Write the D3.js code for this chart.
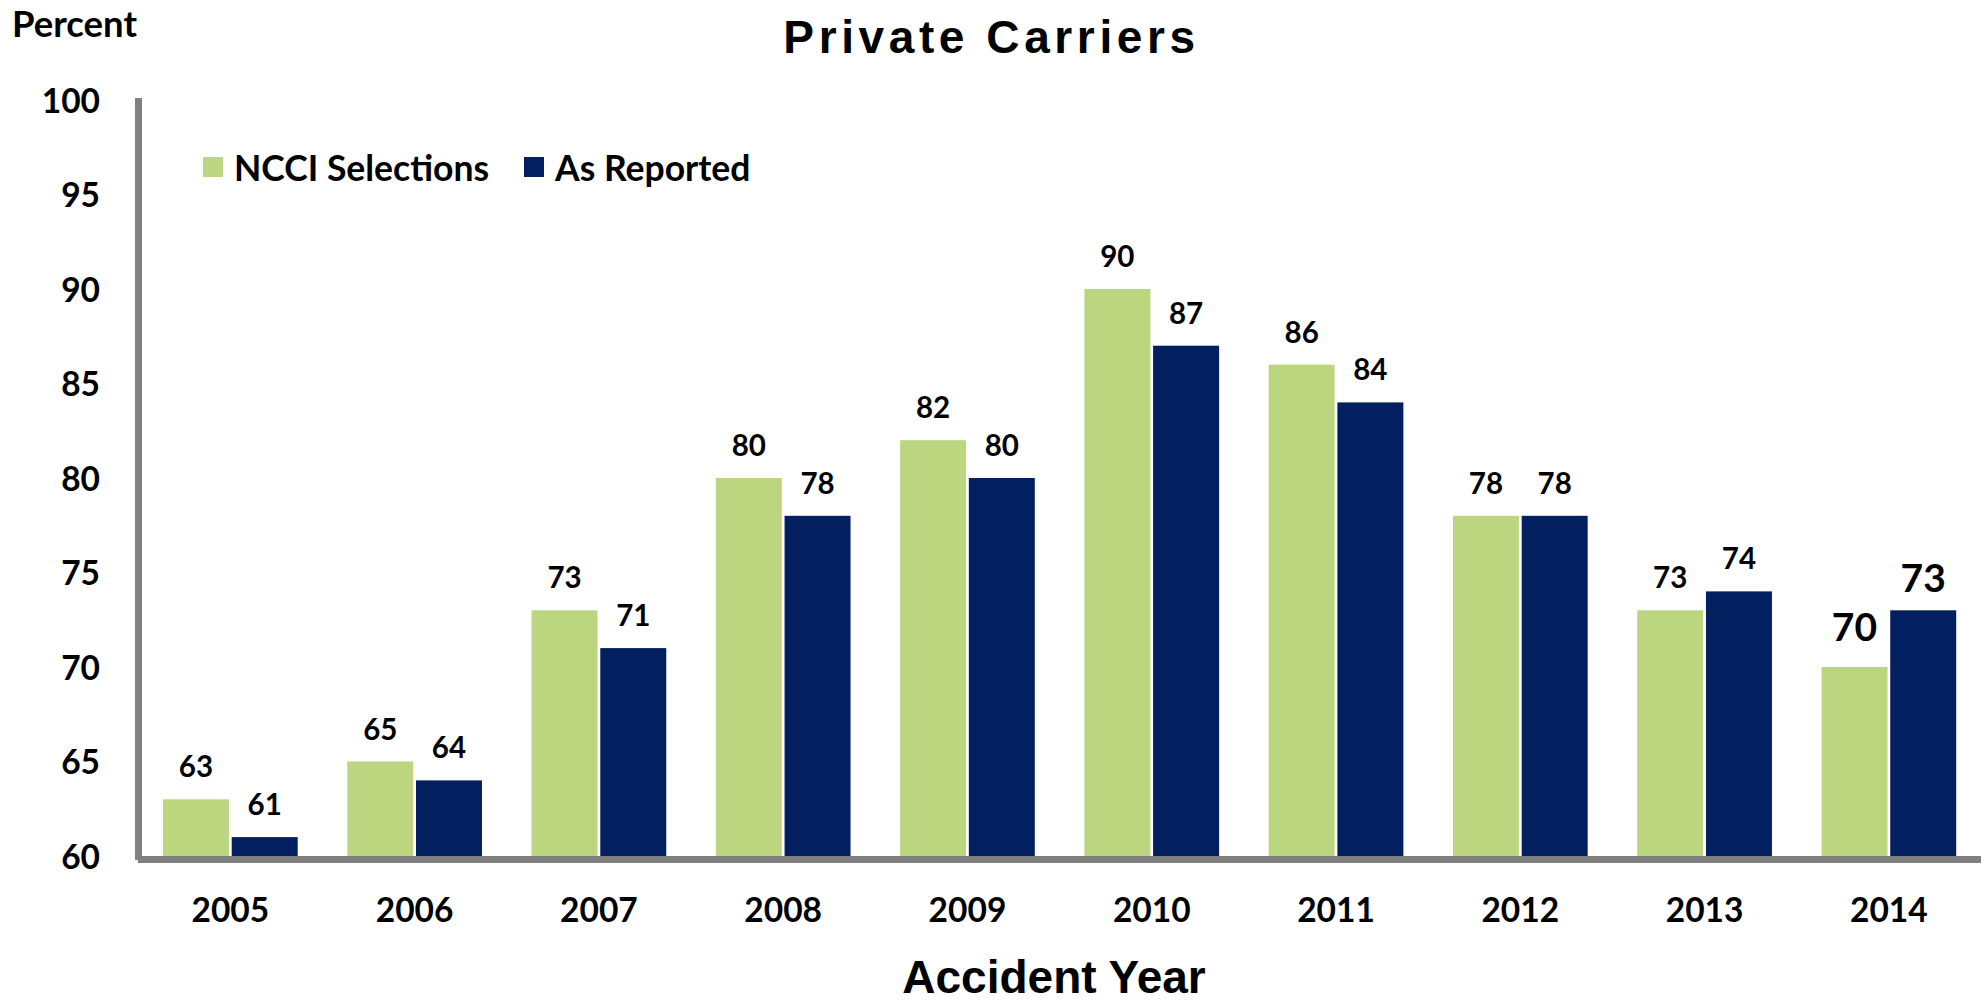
<!DOCTYPE html>
<html>
<head>
<meta charset="utf-8">
<script src="https://cdn.jsdelivr.net/npm/d3@7"></script>
<style>
  html, body { margin: 0; padding: 0; background: #ffffff; }
  svg { display: block; }
</style>
</head>
<body>
<svg id="chart" width="1986" height="1002"></svg>
<script>
const years = ["2005","2006","2007","2008","2009","2010","2011","2012","2013","2014"];
const ncciSelections = [63, 65, 73, 80, 82, 90, 86, 78, 73, 70];
const asReported = [61, 64, 71, 78, 80, 87, 84, 78, 74, 73];
const seriesNames = ["NCCI Selections", "As Reported"];
const seriesColors = ["#BCD680", "#022060"];
const yTicks = [60, 65, 70, 75, 80, 85, 90, 95, 100];

const seriesValues = [ncciSelections, asReported];
const rows = years.map((yr, i) => ({
  year: yr,
  values: seriesNames.map((s, j) => ({ key: s, idx: j, value: seriesValues[j][i], last: i === years.length - 1 }))
}));

const svg = d3.select("#chart");
const labelFont = "Lato, 'Open Sans', sans-serif";
const arialFont = "'Liberation Sans', Arial, sans-serif";

const x0 = d3.scaleBand().domain(years).range([138.2, 1981]).paddingInner(0.269).paddingOuter(0.1345);
const x1 = d3.scaleBand().domain(seriesNames).range([0, x0.bandwidth()]).paddingInner(0.04);
const y = d3.scaleLinear().domain([60, 100]).range([856, 100]);
const color = d3.scaleOrdinal().domain(seriesNames).range(seriesColors);

// Bars
const groups = svg.append("g").selectAll("g").data(rows).join("g")
  .attr("transform", d => `translate(${x0(d.year)},0)`);

groups.selectAll("rect").data(d => d.values).join("rect")
  .attr("x", d => x1(d.key))
  .attr("y", d => y(d.value))
  .attr("width", x1.bandwidth())
  .attr("height", d => y(60) - y(d.value))
  .attr("fill", d => color(d.key));

// Value labels
groups.selectAll("text").data(d => d.values).join("text")
  .attr("x", d => x1(d.key) + x1.bandwidth() / 2)
  .attr("y", d => y(d.value) - (d.last ? (d.idx === 0 ? 26 : 18) : 22))
  .attr("text-anchor", "middle")
  .attr("font-family", labelFont)
  .attr("font-weight", 700)
  .attr("font-size", d => d.last ? 39 : 29.5)
  .attr("fill", "#000")
  .text(d => d.value);

// Y axis labels (via d3 axis)
const yAxis = svg.append("g")
  .attr("transform", "translate(100,0)")
  .call(d3.axisLeft(y).tickValues(yTicks).tickSize(0).tickPadding(0));
yAxis.select(".domain").remove();
yAxis.selectAll("text")
  .attr("font-family", labelFont)
  .attr("font-weight", 700)
  .attr("font-size", 33.5)
  .attr("fill", "#000")
  .attr("dy", "0.36em");

// X axis labels
const xAxis = svg.append("g")
  .attr("transform", "translate(0,922)")
  .call(d3.axisBottom(x0).tickSize(0).tickPadding(0));
xAxis.select(".domain").remove();
xAxis.selectAll("text")
  .attr("font-family", labelFont)
  .attr("font-weight", 700)
  .attr("font-size", 33.5)
  .attr("fill", "#000")
  .attr("dy", 0);

// Axis lines
svg.append("line")
  .attr("x1", 138.5).attr("x2", 138.5)
  .attr("y1", y(100) - 2).attr("y2", 860)
  .attr("stroke", "#808080").attr("stroke-width", 7);
svg.append("line")
  .attr("x1", 138).attr("x2", 1981)
  .attr("y1", 859.5).attr("y2", 859.5)
  .attr("stroke", "#808080").attr("stroke-width", 7);

// Title
svg.append("text")
  .attr("x", 991.5).attr("y", 53)
  .attr("text-anchor", "middle")
  .attr("font-family", arialFont)
  .attr("font-weight", 700)
  .attr("font-size", 46)
  .attr("letter-spacing", "4.6px")
  .attr("fill", "#000")
  .text("Private Carriers");

// Y unit label
svg.append("text")
  .attr("x", 12).attr("y", 37)
  .attr("font-family", labelFont)
  .attr("font-weight", 700)
  .attr("font-size", 36.5)
  .attr("fill", "#000")
  .text("Percent");

// X axis title
svg.append("text")
  .attr("x", 1054).attr("y", 993)
  .attr("text-anchor", "middle")
  .attr("font-family", arialFont)
  .attr("font-weight", 700)
  .attr("font-size", 46)
  .attr("fill", "#000")
  .text("Accident Year");

// Legend
const legendX = [203, 524];
const legend = svg.append("g").selectAll("g").data(seriesNames).join("g")
  .attr("transform", (d, i) => `translate(${legendX[i]},157)`);
legend.append("rect")
  .attr("width", 20).attr("height", 20)
  .attr("fill", d => color(d));
legend.append("text")
  .attr("x", 31).attr("y", 24)
  .attr("font-family", labelFont)
  .attr("font-weight", 700)
  .attr("font-size", 35.5)
  .attr("fill", "#000")
  .text(d => d);
</script>
</body>
</html>
